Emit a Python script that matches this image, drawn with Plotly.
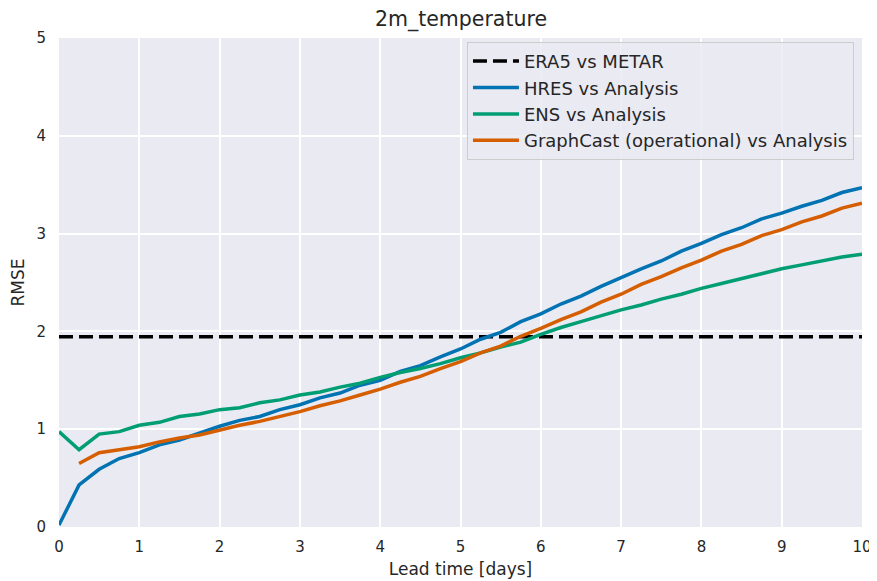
import plotly.graph_objects as go

lead_days = [i * 0.25 for i in range(41)]

hres = [0.02, 0.43, 0.59, 0.70, 0.76, 0.84, 0.89, 0.96, 1.03, 1.09, 1.13, 1.20, 1.25, 1.32, 1.37,
        1.45, 1.50, 1.59, 1.65, 1.74, 1.82, 1.92, 1.99, 2.10, 2.18, 2.28, 2.36, 2.46, 2.55, 2.64,
        2.72, 2.82, 2.90, 2.99, 3.06, 3.15, 3.21, 3.28, 3.34, 3.42, 3.47]

ens = [0.975, 0.79, 0.95, 0.975, 1.04, 1.07, 1.13, 1.155, 1.20, 1.22, 1.27, 1.30, 1.35, 1.38, 1.43,
       1.47, 1.53, 1.58, 1.62, 1.67, 1.73, 1.78, 1.84, 1.89, 1.97, 2.04, 2.10, 2.16, 2.22, 2.27,
       2.33, 2.38, 2.44, 2.49, 2.54, 2.59, 2.64, 2.68, 2.72, 2.76, 2.79]

graphcast_days = lead_days[1:]
graphcast = [0.65, 0.76, 0.79, 0.82, 0.87, 0.91, 0.94, 0.99, 1.04, 1.08, 1.13, 1.18, 1.24, 1.29,
             1.35, 1.41, 1.48, 1.54, 1.62, 1.69, 1.78, 1.85, 1.95, 2.03, 2.12, 2.20, 2.30, 2.38,
             2.48, 2.56, 2.65, 2.73, 2.82, 2.89, 2.98, 3.04, 3.12, 3.18, 3.26, 3.31]

era5_metar = 1.945
x_range = [0, 10]

fig = go.Figure()
fig.add_trace(go.Scatter(x=x_range, y=[era5_metar, era5_metar], mode="lines", name="ERA5 vs METAR",
                         line=dict(color="black", width=3.5, dash="14px,6px")))
fig.add_trace(go.Scatter(x=lead_days, y=hres, mode="lines", name="HRES vs Analysis",
                         line=dict(color="#0173B2", width=3.5)))
fig.add_trace(go.Scatter(x=lead_days, y=ens, mode="lines", name="ENS vs Analysis",
                         line=dict(color="#029E73", width=3.5)))
fig.add_trace(go.Scatter(x=graphcast_days, y=graphcast, mode="lines",
                         name="GraphCast (operational) vs Analysis",
                         line=dict(color="#D55E00", width=3.5)))

font_family = "DejaVu Sans"
fig.update_layout(
    width=869, height=573,
    margin=dict(l=51, r=15, t=30, b=54, autoexpand=False),
    paper_bgcolor="white",
    plot_bgcolor="#EAEAF2",
    font=dict(family=font_family, size=17, color="#262626"),
    title=dict(text="2m_temperature", x=0.5213, xanchor="center", y=0.981, yanchor="middle",
               font=dict(size=20.5, color="#262626")),
    xaxis=dict(range=[0, 10], tick0=0, dtick=1, showgrid=True, gridcolor="white", gridwidth=1.5,
               zeroline=False, showline=False, ticks="", automargin=False, ticklabelstandoff=9,
               title=dict(text="Lead time [days]", standoff=8, font=dict(size=17)),
               tickfont=dict(size=15)),
    yaxis=dict(range=[0, 5], tick0=0, dtick=1, showgrid=True, gridcolor="white", gridwidth=1.5,
               zeroline=False, showline=False, ticks="", automargin=False, ticklabelstandoff=12,
               title=dict(text="RMSE", standoff=8, font=dict(size=17)),
               tickfont=dict(size=15)),
    legend=dict(x=0.990, y=0.992, xanchor="right", yanchor="top",
                bgcolor="rgba(234,234,242,0.85)", bordercolor="#CCCCCC", borderwidth=1,
                font=dict(size=18), tracegroupgap=0, itemwidth=46),
    showlegend=True,
)

fig.write_html("out.html")
